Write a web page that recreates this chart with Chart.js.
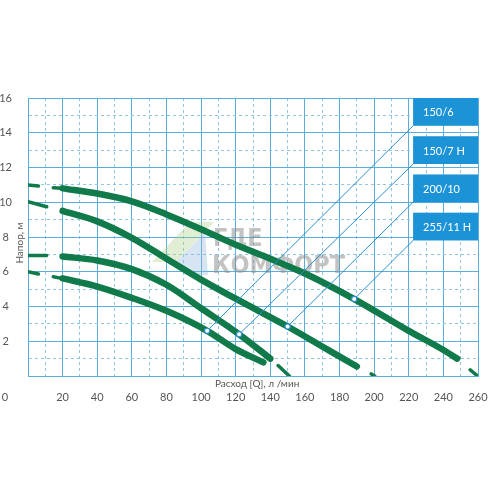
<!DOCTYPE html>
<html>
<head>
<meta charset="utf-8">
<script src="https://cdn.jsdelivr.net/npm/chart.js@4.4.0/dist/chart.umd.min.js"></script>
<style>
  html, body { margin: 0; padding: 0; background: #fff; }
  #wrap { width: 496px; height: 496px; }
</style>
</head>
<body>
<div id="wrap"><canvas id="chart" width="496" height="496"></canvas></div>
<script>
// pump curves: flow (l/min) -> head (m)
const models = ['150/6', '150/7 H', '200/10', '255/11 H'];

const flow150_6 = [20, 40, 60, 80, 103.5, 120, 136];
const head150_6 = [5.62, 5.15, 4.5, 3.75, 2.6, 1.55, 0.78];

const flow150_7 = [20, 40, 60, 80, 100, 122, 140];
const head150_7 = [6.88, 6.65, 6.15, 5.25, 3.9, 2.4, 1.0];

const flow200_10 = [20, 40, 60, 80, 100, 120, 150, 170, 190];
const head200_10 = [9.5, 8.9, 7.95, 6.75, 5.55, 4.45, 2.85, 1.7, 0.55];

const flow255_11 = [20, 40, 60, 80, 100, 120, 140, 160, 188.5, 220, 240, 248];
const head255_11 = [10.8, 10.5, 10.05, 9.3, 8.45, 7.55, 6.75, 5.9, 4.43, 2.6, 1.5, 1.0];

// dashed extensions of each curve: [flow1, head1, flow2, head2]
const tails150_6 = [[0, 6.0, 6, 5.87], [14.6, 5.71, 19.5, 5.62]];
const tails150_7 = [[0, 6.94, 10.8, 6.94], [144.5, 0.6, 151, 0]];
const tails200_10 = [[0, 10.03, 10.8, 9.74], [198.3, 0.12, 200.3, 0]];
const tails255_11 = [[0, 11.0, 6, 10.93], [14.6, 10.83, 19.5, 10.8], [255.5, 0.35, 259.8, 0]];

// where each label's pointer touches its curve
const markerFlow = [103.5, 122, 150, 188.5];
const markerHead = [2.6, 2.4, 2.85, 4.43];

const xTickValues = [0, 20, 40, 60, 80, 100, 120, 140, 160, 180, 200, 220, 240, 260];
const yTickValues = [2, 4, 6, 8, 10, 12, 14, 16];

const GREEN = '#107a4a';
const GRID = '#5aaedb';
const GRID_LIGHT = '#8fc8e6';
const BOX = '#1b93d6';
const LEADER = '#2c8fd0';
const TEXT = '#555';

// label boxes on the right, in axis units
const boxLeft = 222.5;
const boxTop = [16, 13.8, 11.6, 9.4];
const boxBottom = [14.4, 12.2, 10.0, 7.8];

function pts(xs, ys) {
  return xs.map((x, i) => ({ x: x, y: ys[i] }));
}

const datasets = [];

// leader lines, drawn on top
models.forEach((m, i) => {
  datasets.push({
    data: [{ x: boxLeft, y: boxBottom[i] }, { x: markerFlow[i], y: markerHead[i] }],
    showLine: true,
    borderColor: LEADER,
    borderWidth: 1,
    pointRadius: [0, 2.6],
    pointBorderWidth: 1.2,
    pointBorderColor: LEADER,
    pointBackgroundColor: '#fff',
    order: 0
  });
});

const curves = [
  [flow150_6, head150_6, tails150_6],
  [flow150_7, head150_7, tails150_7],
  [flow200_10, head200_10, tails200_10],
  [flow255_11, head255_11, tails255_11]
];

curves.forEach(([xs, ys, tails]) => {
  datasets.push({
    data: pts(xs, ys),
    showLine: true,
    borderColor: GREEN,
    borderWidth: 6.5,
    borderCapStyle: 'round',
    cubicInterpolationMode: 'monotone',
    pointRadius: 0,
    order: 1
  });
  tails.forEach(t => {
    datasets.push({
      data: [{ x: t[0], y: t[1] }, { x: t[2], y: t[3] }],
      showLine: true,
      borderColor: GREEN,
      borderWidth: 3.5,
      borderCapStyle: 'round',
      pointRadius: 0,
      order: 1
    });
  });
});

const extras = {
  id: 'extras',
  beforeDatasetsDraw(chart) {
    const c = chart.ctx;
    c.save();
    // faint watermark logo + text
    c.fillStyle = 'rgba(170,205,130,0.35)';
    c.beginPath();
    c.moveTo(152, 262); c.lineTo(190, 222); c.lineTo(214, 222); c.lineTo(176, 262);
    c.closePath(); c.fill();
    c.fillStyle = 'rgba(140,180,220,0.35)';
    c.beginPath();
    c.moveTo(176, 262); c.lineTo(205, 232); c.lineTo(208, 275); c.lineTo(185, 275);
    c.closePath(); c.fill();
    c.fillStyle = 'rgba(135,135,135,0.5)';
    c.font = 'bold 25px "Liberation Sans Narrow", "DejaVu Sans Condensed", sans-serif';
    c.textBaseline = 'alphabetic';
    c.fillText('ГДЕ', 213, 246);
    c.fillText('КОМФОРТ', 212, 273);
    c.restore();
  },
  afterDatasetsDraw(chart) {
    const c = chart.ctx;
    const x = chart.scales.x, y = chart.scales.y;
    const area = chart.chartArea;
    c.save();
    models.forEach((m, i) => {
      const left = x.getPixelForValue(boxLeft);
      const top = y.getPixelForValue(boxTop[i]);
      const bottom = y.getPixelForValue(boxBottom[i]);
      c.fillStyle = BOX;
      c.fillRect(left, top, area.right - left, bottom - top);
      c.fillStyle = '#fff';
      c.font = '11px Lato, sans-serif';
      c.textBaseline = 'middle';
      c.textAlign = 'left';
      c.fillText(m, left + 10, (top + bottom) / 2 + 1);
    });

    c.fillStyle = TEXT;
    c.font = '10px Lato, sans-serif';
    c.textAlign = 'left';
    c.textBaseline = 'middle';
    c.fillText('Расход [Q], л /мин', 215, 384);

    c.save();
    c.translate(20, 243);
    c.rotate(-Math.PI / 2);
    c.textAlign = 'center';
    c.fillText('Напор, м', 0, 0);
    c.restore();

    c.font = '11px Lato, sans-serif';
    c.textAlign = 'center';
    c.fillText('0', 5, 397);
    c.restore();
  }
};

const isMajorX = v => xTickValues.includes(v);
const isMajorY = v => v % 2 === 0;

new Chart(document.getElementById('chart'), {
  type: 'scatter',
  data: { datasets: datasets },
  plugins: [extras],
  options: {
    responsive: false,
    animation: false,
    layout: { padding: { top: 98, right: 18, bottom: 0, left: 0 } },
    plugins: {
      legend: { display: false },
      tooltip: { enabled: false }
    },
    scales: {
      x: {
        type: 'linear',
        min: 0,
        max: 260,
        afterFit: s => { s.height = 120; s.paddingLeft = 0; s.paddingRight = 0; },
        ticks: {
          stepSize: 10,
          autoSkip: false,
          maxRotation: 0,
          padding: 15,
          color: TEXT,
          font: { family: 'Lato', size: 11 },
          callback: v => (isMajorX(v) && v > 0) ? v : ''
        },
        grid: {
          drawTicks: false,
          color: ctx => isMajorX(ctx.tick.value) ? GRID : GRID_LIGHT,
          lineWidth: 1
        },
        border: {
          color: GRID,
          dash: ctx => (ctx.tick && !isMajorX(ctx.tick.value)) ? [3, 3] : []
        }
      },
      y: {
        type: 'linear',
        min: 0,
        max: 16,
        afterFit: s => { s.width = 28; s.paddingTop = 0; s.paddingBottom = 0; },
        ticks: {
          stepSize: 1,
          autoSkip: false,
          padding: 16,
          crossAlign: 'center',
          color: TEXT,
          font: { family: 'Lato', size: 11 },
          callback: v => (yTickValues.includes(v)) ? v : ''
        },
        grid: {
          drawTicks: false,
          color: ctx => isMajorY(ctx.tick.value) ? GRID : GRID_LIGHT,
          lineWidth: 1
        },
        border: {
          color: GRID,
          dash: ctx => (ctx.tick && !isMajorY(ctx.tick.value)) ? [3, 3] : []
        }
      }
    }
  }
});
</script>
</body>
</html>
